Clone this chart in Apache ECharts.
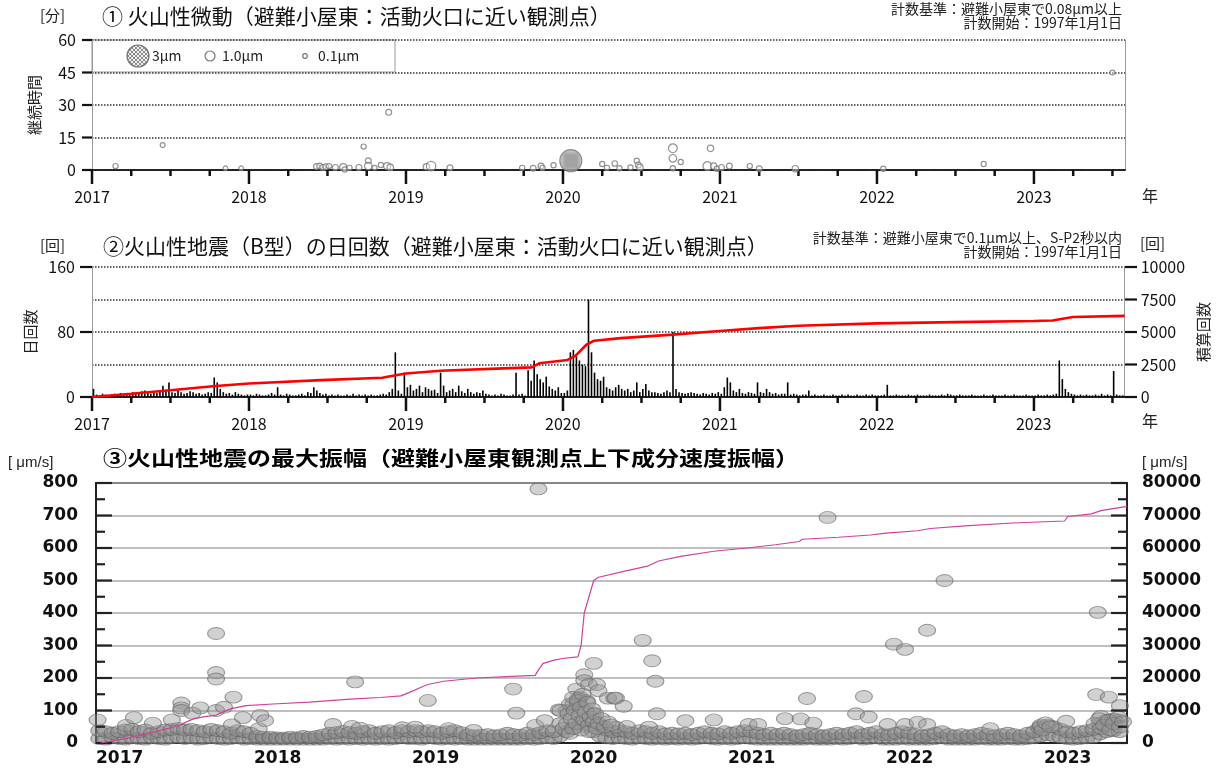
<!DOCTYPE html>
<html>
<head>
<meta charset="utf-8">
<script src="https://cdn.jsdelivr.net/npm/echarts@6/dist/echarts.min.js"></script>
<style>
  html, body { margin: 0; padding: 0; background: #fff; }
  #chart { width: 1219px; height: 769px; }
</style>
</head>
<body>
<div id="chart"></div>
<script>
// ---------- shared axis ticks ----------
const yearTicks = [2017, 2018, 2019, 2020, 2021, 2022, 2023];
const X_END_12 = 2023.58;   // end of panels 1 and 2 (decimal year)
const X_END_3 = 2023.525;   // end of panel 3
const minuteTicks = [0, 15, 30, 45, 60];
const countTicks = [0, 80, 160];
const totalTicks = [0, 2500, 5000, 7500, 10000];
const ampTicks = [0, 50, 100, 150, 200, 250, 300, 350, 400, 450, 500, 550, 600, 650, 700, 750, 800];

// ---------- panel 1: volcanic tremor (year, duration [min], amplitude [um]) ----------
const tremorYear = [2017.15, 2017.45, 2017.85, 2017.95, 2018.43, 2018.45, 2018.47, 2018.49, 2018.51, 2018.55,
  2018.60, 2018.61, 2018.64, 2018.70, 2018.73, 2018.76, 2018.76, 2018.80, 2018.84, 2018.89,
  2018.88, 2018.90, 2019.13, 2019.16, 2019.28, 2019.74, 2019.81, 2019.86, 2019.87, 2019.94,
  2020.05, 2020.25, 2020.28, 2020.33, 2020.36, 2020.43, 2020.47, 2020.48, 2020.49, 2020.70,
  2020.70, 2020.75, 2020.70, 2020.94, 2020.92, 2020.96, 2020.98, 2021.01, 2021.06, 2021.19,
  2021.25, 2021.48, 2022.04, 2022.68, 2023.50];
const tremorMinutes = [1.8, 11.5, 0.8, 0.8, 1.6, 1.8, 1.2, 1.5, 1.8, 1.2,
  1.3, 0.2, 1.0, 1.2, 10.8, 4.3, 1.8, 1.0, 2.3, 26.6,
  1.8, 1.2, 1.5, 1.8, 1.0, 1.0, 0.8, 1.8, 1.0, 2.2,
  4.3, 2.8, 1.0, 3.0, 0.8, 1.2, 4.3, 2.3, 1.2, 10.0,
  5.4, 3.7, 0.8, 10.0, 1.8, 1.8, 0.6, 1.2, 1.8, 1.8,
  0.6, 0.6, 0.6, 2.8, 45.0];
const tremorAmp = [0.2, 0.15, 0.1, 0.1, 0.3, 0.3, 0.3, 0.3, 0.2, 0.3,
  0.5, 0.2, 0.2, 0.3, 0.2, 0.3, 0.6, 0.15, 0.2, 0.3,
  0.5, 0.4, 0.4, 0.9, 0.3, 0.2, 0.3, 0.3, 0.2, 0.2,
  3.0, 0.2, 0.2, 0.25, 0.2, 0.2, 0.2, 0.3, 0.4, 0.8,
  0.6, 0.2, 0.2, 0.4, 0.8, 0.4, 0.2, 0.3, 0.3, 0.2,
  0.3, 0.4, 0.2, 0.2, 0.15];
const legendAmp = [3, 1.0, 0.1];
const legendText = ['3μm', '1.0μm', '0.1μm'];

// ---------- panel 2: daily B-type earthquakes (weekly peak of daily counts) ----------
const quakes2017 = [10,3,2,4,3,2,3,4,2,5, 3,4,3,6,5,4,7,8,5,4, 6,5,7,14,9,18,6,5,8,6, 4,5,7,6,4,5,3,4,6,5, 24,18,10,6,4,5,3,6,4,3, 2,3];
const quakes2018 = [3,2,4,3,2,2,3,5,3,12, 3,2,4,3,2,2,3,4,2,6, 5,12,8,5,3,4,2,3,2,3, 2,2,3,2,4,2,3,2,3,2, 3,2,2,3,4,3,6,10,55,8, 4,30];
const quakes2019 = [12,15,8,10,14,6,12,10,8,9, 5,30,14,6,8,10,6,14,7,5, 10,6,4,6,5,8,4,3,2,3, 2,4,3,2,2,3,30,3,4,2, 33,20,45,28,22,18,25,13,10,8, 12,5];
const quakes2020 = [5,8,55,58,50,45,40,38,120,55, 30,22,20,25,12,10,8,12,15,10, 8,10,6,8,18,6,10,16,8,6, 6,5,4,6,8,6,80,10,6,5, 4,5,6,5,4,3,5,4,3,5, 4,6];
const quakes2021 = [4,12,24,18,8,6,10,5,4,6, 5,4,18,6,5,10,6,4,5,3, 4,4,18,3,4,3,2,3,3,8, 2,3,2,2,3,2,2,3,2,2, 3,2,3,2,2,3,2,2,3,2, 3,2];
const quakes2022 = [2,2,3,15,2,2,3,2,2,2, 3,2,2,3,2,2,2,3,2,2, 2,3,2,4,3,2,2,3,2,2, 2,3,2,2,2,3,2,2,3,2, 2,2,3,2,2,3,2,2,2,3, 2,2];
const quakes2023 = [2,3,2,2,3,2,3,4,45,22, 10,6,4,3,2,3,2,3,2,2, 3,2,4,2,3,2,32,3,2,2];
const cumYear2 = [2017.0, 2017.25, 2017.5, 2017.77, 2018.0, 2018.46, 2018.85, 2018.9, 2019.0, 2019.22,
  2019.62, 2019.8, 2019.85, 2020.03, 2020.08, 2020.15, 2020.2, 2020.37, 2020.7, 2021.0,
  2021.25, 2021.5, 2022.0, 2022.5, 2023.0, 2023.12, 2023.25, 2023.58];
const cumCount2 = [0, 250, 520, 830, 1040, 1300, 1480, 1600, 1810, 2020,
  2200, 2280, 2590, 2850, 3160, 4020, 4330, 4530, 4800, 5080,
  5300, 5480, 5660, 5760, 5850, 5880, 6150, 6240];

// ---------- panel 3: maximum amplitude [um/s] ----------
// dense band, half-month bins: upper and lower rows of events
const bandTop = [
  38,35,30,35,40,42,35,40,30,35,40,42,45,40,42,38,35,42,38,35,30,38,35,30,
  20,18,18,16,15,18,16,20,18,20,25,30,32,36,32,30,35,38,30,35,38,32,38,35,
  38,35,38,35,30,35,38,32,25,22,24,26,22,25,30,26,24,30,26,32,38,35,60,100,
  120,140,130,90,55,40,35,38,35,30,38,35,30,35,28,30,28,30,26,30,35,30,28,35,
  30,35,38,35,30,26,30,26,30,26,22,26,30,26,22,26,30,26,30,35,26,30,35,26,
  26,30,35,30,26,22,26,30,35,26,22,26,22,26,30,26,22,26,30,26,22,30,35,50,
  55,50,42,35,30,35,38,42,60,70,72,70];
const bandLow = [
  14,12,16,14,12,16,14,12,16,14,12,16,18,14,16,12,14,16,14,12,14,16,12,14,
  12,12,12,12,12,12,12,12,12,12,12,14,12,14,12,14,12,14,12,14,12,14,16,14,
  14,12,16,14,12,14,12,14,12,12,12,12,12,12,12,12,12,14,12,14,16,14,22,35,
  45,60,50,35,22,16,14,16,14,12,16,14,12,14,12,14,12,14,12,14,16,14,12,14,
  12,14,16,14,12,12,12,12,12,12,12,12,14,12,12,12,14,12,14,16,12,14,16,12,
  12,12,14,12,12,12,12,14,16,12,12,12,12,12,14,12,12,12,14,12,12,14,16,22,
  25,22,18,14,12,14,16,18,28,35,38,35];
// individual events above the band: [decimal year, amplitude]
const ampEvents = [
  [2017.01,71],[2017.19,54],[2017.24,78],[2017.36,61],[2017.48,71],[2017.54,123],[2017.54,108],[2017.54,100],
  [2017.61,92],[2017.66,108],[2017.76,337],[2017.76,217],[2017.76,197],[2017.76,100],[2017.81,110],[2017.86,56],
  [2017.87,141],[2017.93,78],[2018.03,44],[2018.04,85],[2018.07,69],[2018.5,57],[2018.62,51],[2018.64,188],
  [2018.67,46],[2018.94,47],[2019.02,49],[2019.1,131],[2019.23,44],[2019.39,39],[2019.64,166],[2019.66,92],
  [2019.78,54],[2019.8,782],[2019.84,69],[2019.93,102],[2019.94,100],[2020.04,166],[2020.05,136],[2020.05,120],
  [2020.09,210],[2020.09,192],[2020.12,180],[2020.15,245],[2020.17,180],[2020.18,161],[2020.24,138],[2020.28,138],
  [2020.29,138],[2020.34,113],[2020.29,49],[2020.36,51],[2020.46,316],[2020.5,49],[2020.52,253],[2020.54,190],
  [2020.55,90],[2020.73,69],[2020.91,71],[2021.13,57],[2021.19,57],[2021.36,75],[2021.46,74],[2021.5,137],
  [2021.54,61],[2021.63,694],[2021.81,90],[2021.86,143],[2021.89,80],[2022.01,57],[2022.05,304],[2022.12,288],
  [2022.12,57],[2022.2,64],[2022.26,347],[2022.26,57],[2022.37,500],[2022.66,44],[2022.97,46],[2023.14,67],
  [2023.33,149],[2023.34,402],[2023.36,82],[2023.41,141],[2023.44,74],[2023.48,115],
  // swarm around the turn of 2019/2020
  [2019.96,45],[2019.98,60],[2019.99,90],[2020.0,120],[2020.0,30],[2020.01,75],[2020.02,140],[2020.02,45],
  [2020.03,100],[2020.04,60],[2020.05,130],[2020.06,85],[2020.07,110],[2020.07,40],[2020.08,150],[2020.09,70],
  [2020.1,95],[2020.11,125],[2020.12,55],[2020.12,35],[2020.13,80],[2020.14,105],[2020.15,65],[2020.16,90],
  [2020.17,45],[2020.18,60],[2020.2,75],[2020.22,50],[2020.24,65],[2020.26,55],
  // early 2023 activity
  [2022.98,55],[2022.99,40],[2023.01,62],[2023.04,50],[2023.32,60],[2023.35,75],[2023.36,45],[2023.38,55],
  [2023.41,70],[2023.42,40],[2023.44,60],[2023.47,80],[2023.48,50],[2023.5,65]];
const cumYear3 = [2017.03, 2017.2, 2017.4, 2017.5, 2017.55, 2017.62, 2017.7, 2017.76, 2017.85, 2017.95,
  2018.12, 2018.35, 2018.61, 2018.8, 2018.93, 2018.98, 2019.05, 2019.1, 2019.2, 2019.41,
  2019.63, 2019.78, 2019.8, 2019.83, 2019.9, 2019.95, 2020.05, 2020.07, 2020.09, 2020.12,
  2020.15, 2020.18, 2020.34, 2020.49, 2020.56, 2020.7, 2020.91, 2021.12, 2021.3, 2021.45,
  2021.47, 2021.7, 2021.9, 2022.0, 2022.2, 2022.28, 2022.5, 2022.8, 2023.13, 2023.15,
  2023.3, 2023.36, 2023.525];
const cumAmp3 = [0, 1500, 3800, 5000, 6000, 7500, 8200, 8600, 10500, 11500,
  12000, 12600, 13500, 14000, 14500, 15500, 17000, 18000, 19000, 20000,
  20500, 20800, 22500, 24500, 25500, 26000, 26500, 30000, 40000, 45000,
  50000, 51000, 52800, 54400, 56000, 57400, 59000, 60000, 61000, 62000,
  62700, 63300, 64000, 64600, 65300, 66000, 66800, 67700, 68300, 69700,
  70500, 71500, 72800];

// ---------- helpers ----------
const NARROW = '"Liberation Sans Narrow", "Noto Sans CJK JP", sans-serif';
const JP = '"Noto Sans CJK JP", sans-serif';
const BOLD = '"DejaVu Sans", "Noto Sans CJK JP", sans-serif';
const asText = v => String(Math.round(v));
const yearText = v => (Math.abs(v - Math.round(v)) < 1e-6 ? String(Math.round(v)) : '');

function hatchCanvas() {
  const c = document.createElement('canvas');
  c.width = 4; c.height = 4;
  const g = c.getContext('2d');
  g.fillStyle = '#f0f0f0'; g.fillRect(0, 0, 4, 4);
  g.fillStyle = '#8c8c8c';
  for (let i = 0; i < 4; i++) { g.fillRect(i, i, 1, 1); g.fillRect(3 - i, i, 1, 1); }
  return c;
}
const hatch = { image: hatchCanvas(), repeat: 'repeat' };
const bubbleSize = a => 4 + 6 * a;

const tremorData = tremorYear.map((y, i) => ({
  value: [y, tremorMinutes[i]],
  symbolSize: bubbleSize(tremorAmp[i]),
  itemStyle: { color: tremorAmp[i] >= 2 ? hatch : 'rgba(255,255,255,0.5)', borderColor: '#777', borderWidth: 1.2 }
}));

const weekly = [[2017, quakes2017], [2018, quakes2018], [2019, quakes2019], [2020, quakes2020],
                [2021, quakes2021], [2022, quakes2022], [2023, quakes2023]];
const quakeBars = [];
weekly.forEach(([y, arr]) => arr.forEach((v, i) => quakeBars.push([y + (i + 0.5) / 52, v])));
const cum2 = cumYear2.map((y, i) => [y, cumCount2[i]]);

const binX = i => 2017 + (i + 0.5) / 24;
const bandTopData = bandTop.map((v, i) => [binX(i), v]);
const bandLowData = bandLow.map((v, i) => [binX(i), v]);
const cum3 = cumYear3.map((y, i) => [y, cumAmp3[i]]);

// ---------- axis builders ----------
const dotted = { color: '#333', width: 1.5, type: [1.5, 1.5] };
function yearAxis(grid) {
  return {
    gridIndex: grid, type: 'value', min: 2017, max: X_END_12, interval: 1, position: 'bottom',
    axisLine: { show: true, onZero: false, lineStyle: { color: '#222', width: 2.2, type: [1.5, 1.2] } },
    axisTick: { show: false },
    axisLabel: { margin: 19, fontSize: 16, fontFamily: NARROW, color: '#111', formatter: yearText, showMaxLabel: false },
    splitLine: { show: false }
  };
}
const panel3Label = { fontSize: 17, fontWeight: 'bold', fontFamily: BOLD, color: '#111' };

const grids = [
  { left: 92, right: 94, top: 40, height: 130 },
  { left: 92, right: 94, top: 267, height: 130 },
  { left: 96, right: 92, top: 483, height: 260, show: true, borderColor: '#222', borderWidth: 2, backgroundColor: 'transparent' }
];
const xAxes = [
  yearAxis(0), yearAxis(1),
  {
    gridIndex: 2, type: 'value', min: 2017, max: X_END_3,
    axisLine: { show: true, lineStyle: { color: '#222', width: 2 } },
    axisTick: { show: false },
    axisLabel: Object.assign({ customValues: yearTicks, align: 'left', margin: 7, formatter: asText }, panel3Label),
    splitLine: { show: false }
  }
];
const yAxes = [
  {
    gridIndex: 0, type: 'value', min: 0, max: 60, interval: 15,
    name: '継続時間', nameLocation: 'middle', nameGap: 50, nameRotate: 90,
    nameTextStyle: { fontSize: 15, fontFamily: JP, color: '#222' },
    axisLine: { show: true, lineStyle: { color: '#999', width: 1 } },
    axisTick: { show: false },
    axisLabel: { fontSize: 16, fontFamily: NARROW, color: '#111', margin: 16 },
    splitLine: { show: true, lineStyle: dotted }
  },
  {
    gridIndex: 0, type: 'value', min: 0, max: 60, position: 'right',
    axisLine: { show: true, lineStyle: { color: '#999', width: 1 } },
    axisTick: { show: false }, axisLabel: { show: false }, splitLine: { show: false }
  },
  {
    gridIndex: 1, type: 'value', min: 0, max: 160, interval: 40, position: 'left',
    name: '日回数', nameLocation: 'middle', nameGap: 52, nameRotate: 90,
    nameTextStyle: { fontSize: 15, fontFamily: JP, color: '#222' },
    axisLine: { show: true, lineStyle: { color: '#999', width: 1 } },
    axisTick: { show: false },
    axisLabel: { fontSize: 16, fontFamily: NARROW, color: '#111', margin: 17,
                 formatter: v => (countTicks.indexOf(v) >= 0 ? String(v) : '') },
    splitLine: { show: true, lineStyle: dotted }
  },
  {
    gridIndex: 1, type: 'value', min: 0, max: 10000, interval: 2500, position: 'right',
    name: '積算回数', nameLocation: 'middle', nameGap: 70, nameRotate: 90,
    nameTextStyle: { fontSize: 15, fontFamily: JP, color: '#222' },
    axisLine: { show: true, lineStyle: { color: '#999', width: 1 } },
    axisTick: { show: false },
    axisLabel: { fontSize: 16, fontFamily: NARROW, color: '#111', margin: 16, formatter: asText },
    splitLine: { show: false }
  },
  {
    gridIndex: 2, type: 'value', min: 0, max: 800, interval: 100,
    axisLine: { show: true, lineStyle: { color: '#222', width: 2 } },
    axisTick: { show: false },
    axisLabel: Object.assign({ margin: 18, formatter: asText }, panel3Label),
    splitLine: { show: true, lineStyle: { color: '#aaa', width: 1.5 } }
  },
  {
    gridIndex: 2, type: 'value', min: 0, max: 80000, interval: 10000, position: 'right',
    axisLine: { show: true, lineStyle: { color: '#222', width: 2 } },
    axisTick: { show: false },
    axisLabel: Object.assign({ margin: 15, formatter: asText }, panel3Label),
    splitLine: { show: false }
  }
];

const series = [
  // panel 1
  { type: 'scatter', xAxisIndex: 0, yAxisIndex: 0, data: tremorData, z: 5 },
  // panel 2
  { type: 'bar', xAxisIndex: 1, yAxisIndex: 2, data: quakeBars, barWidth: 1.6, itemStyle: { color: '#000' }, z: 3 },
  { type: 'line', xAxisIndex: 1, yAxisIndex: 3, data: cum2, showSymbol: false,
    lineStyle: { color: '#ff0000', width: 2.6 }, z: 6 },
  // panel 3
  { type: 'scatter', xAxisIndex: 2, yAxisIndex: 4, data: bandLowData, symbolSize: [17, 12],
    itemStyle: { color: 'rgba(140,140,140,0.65)', borderColor: 'rgba(100,100,100,0.8)', borderWidth: 1 }, z: 3 },
  { type: 'scatter', xAxisIndex: 2, yAxisIndex: 4, data: bandTopData, symbolSize: [17, 12],
    itemStyle: { color: 'rgba(140,140,140,0.65)', borderColor: 'rgba(100,100,100,0.8)', borderWidth: 1 }, z: 3 },
  { type: 'scatter', xAxisIndex: 2, yAxisIndex: 4, data: ampEvents, symbolSize: [17, 12],
    itemStyle: { color: 'rgba(150,150,150,0.55)', borderColor: 'rgba(105,105,105,0.8)', borderWidth: 1 }, z: 3 },
  { type: 'line', xAxisIndex: 2, yAxisIndex: 5, data: cum3, showSymbol: false,
    lineStyle: { color: '#d0409a', width: 1.2 }, z: 6 }
];

// ---------- tick marks: thin bars in narrow strips along each axis ----------
// strip under a time axis: bars hang down from the axis line, long at years, short at quarters
function timeTickStrip(top) {
  const g = grids.length;
  grids.push({ left: 92, right: 94, top: top, height: 14 });
  xAxes.push({ gridIndex: g, type: 'value', min: 2017, max: X_END_12, show: false });
  yAxes.push({ gridIndex: g, type: 'value', min: 0, max: 14, inverse: true, show: false });
  const data = [];
  yearTicks.forEach(y => {
    data.push([y, 14]);
    [0.25, 0.5, 0.75].forEach(q => { if (y + q <= X_END_12) data.push([y + q, 6]); });
  });
  series.push({ type: 'bar', xAxisIndex: xAxes.length - 1, yAxisIndex: yAxes.length - 1, data: data,
                barWidth: 2.5, itemStyle: { color: '#111' }, silent: true, clip: false, z: 4 });
}
// strip beside a value axis: evenly spaced ticks, bars grow away from (or into) the plot
function valueTickStrip(box, ticks, lengths, growLeft, color) {
  const g = grids.length;
  grids.push(box);
  yAxes.push({ gridIndex: g, type: 'category', data: ticks.map(String), boundaryGap: false, show: false });
  xAxes.push({ gridIndex: g, type: 'value', min: 0, max: box.width, inverse: growLeft, show: false });
  series.push({ type: 'bar', xAxisIndex: xAxes.length - 1, yAxisIndex: yAxes.length - 1, data: lengths,
                barWidth: 2.2, itemStyle: { color: color }, silent: true, clip: false, z: 4 });
}
timeTickStrip(170);
timeTickStrip(397);
valueTickStrip({ left: 82, width: 10, top: 40, height: 130 }, minuteTicks, minuteTicks.map(() => 10), true, '#111');
valueTickStrip({ left: 80, width: 12, top: 267, height: 130 }, countTicks, countTicks.map(() => 12), true, '#111');
valueTickStrip({ left: 1125, width: 12, top: 267, height: 130 }, totalTicks, totalTicks.map(() => 12), false, '#111');
valueTickStrip({ left: 96, width: 16, top: 483, height: 260 }, ampTicks, ampTicks.map(v => (v % 100 === 0 ? 16 : 9)), false, '#222');
valueTickStrip({ left: 1111, width: 16, top: 483, height: 260 }, ampTicks, ampTicks.map(v => (v % 100 === 0 ? 16 : 9)), true, '#222');

const option = {
  animation: false,
  backgroundColor: '#fff',
  grid: grids,
  xAxis: xAxes,
  yAxis: yAxes,
  series: series,
  graphic: [
    // panel 1 headings
    { type: 'text', left: 40, top: 8, style: { text: '[分]', fontSize: 15, fontFamily: JP, fill: '#222' } },
    { type: 'text', left: 102, top: 6, style: { text: '① 火山性微動（避難小屋東：活動火口に近い観測点）', fontSize: 21, fontFamily: JP, fill: '#111' } },
    { type: 'text', right: 97, top: 2, style: { text: '計数基準：避難小屋東で0.08μm以上', fontSize: 14, fontFamily: JP, fill: '#222' } },
    { type: 'text', right: 97, top: 16, style: { text: '計数開始：1997年1月1日', fontSize: 14, fontFamily: JP, fill: '#222' } },
    { type: 'text', left: 1142, top: 188, style: { text: '年', fontSize: 16, fontFamily: JP, fill: '#222' } },
    // panel 1 legend box
    { type: 'group', z: 50, children: [
      { type: 'rect', shape: { x: 92, y: 40, width: 303, height: 32 }, style: { fill: '#fff', stroke: '#999', lineWidth: 1 } },
      { type: 'circle', shape: { cx: 138, cy: 56, r: bubbleSize(legendAmp[0]) / 2 }, style: { fill: hatch, stroke: '#777', lineWidth: 1.2 } },
      { type: 'text', style: { x: 152, y: 56, text: legendText[0], fontSize: 14, fontFamily: NARROW, fill: '#222', verticalAlign: 'middle' } },
      { type: 'circle', shape: { cx: 210, cy: 56, r: bubbleSize(legendAmp[1]) / 2 }, style: { fill: '#fff', stroke: '#777', lineWidth: 1.2 } },
      { type: 'text', style: { x: 222, y: 56, text: legendText[1], fontSize: 14, fontFamily: NARROW, fill: '#222', verticalAlign: 'middle' } },
      { type: 'circle', shape: { cx: 305, cy: 56, r: bubbleSize(legendAmp[2]) / 2 }, style: { fill: '#fff', stroke: '#777', lineWidth: 1.2 } },
      { type: 'text', style: { x: 318, y: 56, text: legendText[2], fontSize: 14, fontFamily: NARROW, fill: '#222', verticalAlign: 'middle' } }
    ] },
    // panel 2 headings
    { type: 'text', left: 40, top: 238, style: { text: '[回]', fontSize: 15, fontFamily: JP, fill: '#222' } },
    { type: 'text', left: 103, top: 236, style: { text: '②火山性地震（B型）の日回数（避難小屋東：活動火口に近い観測点）', fontSize: 21, fontFamily: JP, fill: '#111' } },
    { type: 'text', right: 97, top: 231, style: { text: '計数基準：避難小屋東で0.1μm以上、S-P2秒以内', fontSize: 14, fontFamily: JP, fill: '#222' } },
    { type: 'text', right: 97, top: 245, style: { text: '計数開始：1997年1月1日', fontSize: 14, fontFamily: JP, fill: '#222' } },
    { type: 'text', left: 1140, top: 236, style: { text: '[回]', fontSize: 15, fontFamily: JP, fill: '#222' } },
    { type: 'text', left: 1142, top: 413, style: { text: '年', fontSize: 16, fontFamily: JP, fill: '#222' } },
    // panel 3 headings
    { type: 'text', x: 103, y: 448, scaleX: 1.2, style: { x: 0, y: 0, text: '③火山性地震の最大振幅（避難小屋東観測点上下成分速度振幅）', fontSize: 20, fontWeight: 'bold', fontFamily: JP, fill: '#000' } },
    { type: 'text', left: 8, top: 455, style: { text: '[ μm/s]', fontSize: 15, fontFamily: '"Liberation Sans", sans-serif', fill: '#222' } },
    { type: 'text', left: 1142, top: 455, style: { text: '[ μm/s]', fontSize: 15, fontFamily: '"Liberation Sans", sans-serif', fill: '#222' } }
  ]
};

const chart = echarts.init(document.getElementById('chart'), null, { renderer: 'canvas' });
chart.setOption(option);
</script>
</body>
</html>
